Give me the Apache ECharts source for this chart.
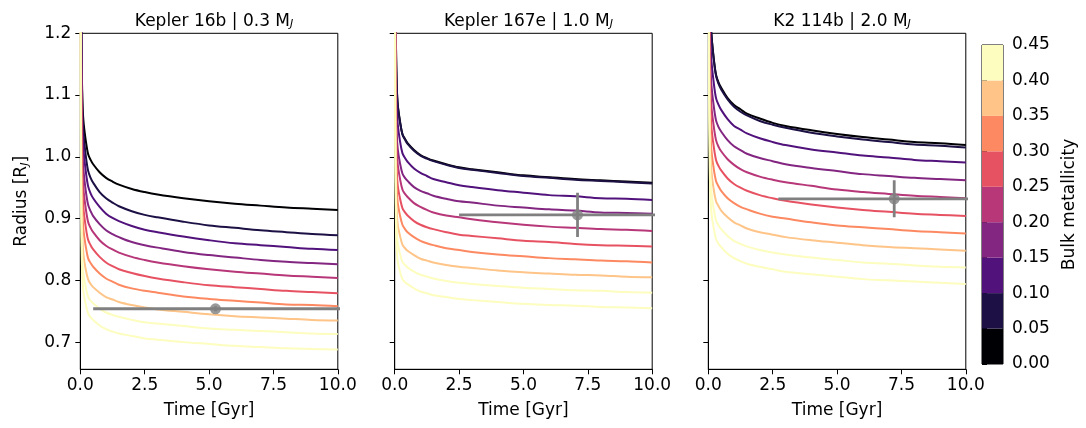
<!DOCTYPE html>
<html>
<head>
<meta charset="utf-8">
<script src="https://cdn.jsdelivr.net/npm/echarts@6/dist/echarts.min.js"></script>
<style>
html,body{margin:0;padding:0;background:#fff;}
#chart{width:1086px;height:428px;}
</style>
</head>
<body>
<div id="chart"></div>
<script>
// ---------- DATA ----------
const times = [0.01,0.02,0.03,0.05,0.08,0.12,0.2,0.3,0.4,0.5,0.75,1,1.25,1.5,2,2.5,3,4,5,6,7,8,9,10];
const metallicity = [0.00,0.05,0.10,0.15,0.20,0.25,0.30,0.35,0.40,0.45];

// Kepler 16b | 0.3 MJ
const k16b_z00 = [1.864,1.454,1.304,1.170,1.094,1.059,1.030,1.005,0.995,0.988,0.975,0.966,0.960,0.955,0.948,0.943,0.939,0.933,0.928,0.924,0.921,0.918,0.916,0.914];
const k16b_z05 = [1.966,1.494,1.322,1.167,1.080,1.040,1.006,0.978,0.966,0.958,0.943,0.933,0.926,0.920,0.912,0.906,0.902,0.895,0.889,0.885,0.881,0.878,0.875,0.873];
const k16b_z10 = [1.932,1.465,1.294,1.141,1.054,1.014,0.981,0.953,0.941,0.933,0.919,0.908,0.901,0.896,0.888,0.882,0.878,0.871,0.865,0.860,0.857,0.854,0.851,0.849];
const k16b_z15 = [1.833,1.398,1.239,1.097,1.017,0.980,0.949,0.923,0.912,0.904,0.891,0.881,0.875,0.870,0.862,0.857,0.853,0.846,0.841,0.837,0.833,0.830,0.828,0.826];
const k16b_z20 = [1.754,1.344,1.194,1.060,0.984,0.949,0.920,0.895,0.885,0.878,0.865,0.856,0.850,0.845,0.838,0.833,0.829,0.823,0.818,0.814,0.811,0.808,0.806,0.804];
const k16b_z25 = [1.691,1.297,1.153,1.025,0.952,0.918,0.890,0.866,0.857,0.850,0.838,0.829,0.823,0.818,0.812,0.807,0.803,0.797,0.792,0.789,0.786,0.783,0.781,0.779];
const k16b_z30 = [1.575,1.222,1.093,0.978,0.913,0.883,0.858,0.836,0.828,0.822,0.811,0.803,0.798,0.793,0.787,0.783,0.780,0.774,0.770,0.767,0.764,0.761,0.760,0.758];
const k16b_z35 = [1.438,1.134,1.023,0.924,0.868,0.842,0.820,0.802,0.794,0.789,0.780,0.773,0.769,0.765,0.760,0.756,0.753,0.749,0.745,0.742,0.740,0.738,0.736,0.735];
const k16b_z40 = [1.350,1.075,0.974,0.885,0.834,0.810,0.791,0.774,0.767,0.763,0.754,0.748,0.744,0.741,0.736,0.732,0.730,0.726,0.722,0.720,0.718,0.716,0.714,0.713];
const k16b_z45 = [1.305,1.039,0.941,0.854,0.805,0.782,0.763,0.747,0.740,0.736,0.727,0.721,0.717,0.714,0.710,0.706,0.704,0.700,0.697,0.694,0.692,0.690,0.689,0.688];

// Kepler 167e | 1.0 MJ
const k167e_z00 = [1.785,1.428,1.297,1.181,1.115,1.084,1.059,1.037,1.029,1.022,1.011,1.003,0.998,0.994,0.988,0.983,0.980,0.975,0.970,0.967,0.964,0.962,0.960,0.958];
const k167e_z05 = [1.784,1.427,1.296,1.180,1.114,1.083,1.058,1.036,1.028,1.021,1.010,1.002,0.997,0.993,0.987,0.982,0.979,0.974,0.969,0.966,0.963,0.961,0.959,0.957];
const k167e_z10 = [1.728,1.384,1.258,1.145,1.081,1.052,1.027,1.006,0.998,0.992,0.981,0.974,0.969,0.964,0.959,0.954,0.951,0.946,0.942,0.938,0.936,0.933,0.932,0.930];
const k167e_z15 = [1.592,1.296,1.188,1.092,1.037,1.012,0.991,0.973,0.966,0.961,0.951,0.945,0.941,0.937,0.932,0.928,0.926,0.921,0.918,0.915,0.913,0.910,0.909,0.908];
const k167e_z20 = [1.583,1.280,1.169,1.069,1.013,0.987,0.966,0.947,0.940,0.935,0.925,0.919,0.914,0.910,0.905,0.902,0.899,0.894,0.890,0.887,0.885,0.883,0.882,0.880];
const k167e_z25 = [1.501,1.222,1.120,1.029,0.977,0.953,0.934,0.917,0.910,0.905,0.896,0.890,0.886,0.883,0.878,0.874,0.872,0.868,0.864,0.862,0.859,0.857,0.856,0.855];
const k167e_z30 = [1.456,1.186,1.087,0.998,0.948,0.925,0.906,0.890,0.883,0.878,0.870,0.864,0.860,0.857,0.852,0.849,0.846,0.842,0.839,0.836,0.834,0.832,0.831,0.829];
const k167e_z35 = [1.356,1.118,1.031,0.954,0.910,0.889,0.873,0.858,0.852,0.848,0.841,0.835,0.832,0.829,0.825,0.822,0.820,0.816,0.813,0.811,0.809,0.808,0.806,0.805];
const k167e_z40 = [1.303,1.077,0.995,0.921,0.879,0.860,0.844,0.830,0.825,0.821,0.814,0.809,0.806,0.803,0.799,0.796,0.794,0.791,0.788,0.786,0.784,0.783,0.781,0.780];
const k167e_z45 = [1.249,1.036,0.958,0.888,0.849,0.830,0.815,0.802,0.797,0.794,0.787,0.782,0.779,0.776,0.773,0.770,0.768,0.765,0.762,0.760,0.759,0.757,0.756,0.755];

// K2 114b | 2.0 MJ
const k2114b_z00 = [2.207,1.694,1.507,1.339,1.244,1.200,1.164,1.133,1.120,1.112,1.095,1.084,1.077,1.070,1.062,1.055,1.050,1.043,1.037,1.032,1.028,1.024,1.022,1.019];
const k2114b_z05 = [2.222,1.701,1.510,1.340,1.244,1.199,1.162,1.131,1.118,1.109,1.093,1.081,1.073,1.067,1.058,1.052,1.047,1.039,1.033,1.028,1.024,1.020,1.018,1.015];
const k2114b_z10 = [2.083,1.612,1.439,1.285,1.198,1.157,1.124,1.095,1.084,1.076,1.061,1.050,1.044,1.038,1.030,1.024,1.019,1.012,1.007,1.002,0.999,0.995,0.993,0.991];
const k2114b_z15 = [1.978,1.539,1.379,1.235,1.154,1.117,1.086,1.059,1.048,1.041,1.027,1.017,1.011,1.005,0.998,0.993,0.988,0.982,0.977,0.972,0.969,0.966,0.964,0.962];
const k2114b_z20 = [1.912,1.489,1.335,1.197,1.118,1.082,1.053,1.027,1.016,1.009,0.996,0.987,0.980,0.975,0.968,0.963,0.959,0.953,0.947,0.943,0.940,0.937,0.935,0.933];
const k2114b_z25 = [1.854,1.444,1.294,1.160,1.084,1.049,1.020,0.995,0.985,0.978,0.965,0.956,0.950,0.945,0.938,0.933,0.929,0.923,0.918,0.914,0.911,0.908,0.906,0.904];
const k2114b_z30 = [1.760,1.379,1.239,1.115,1.044,1.011,0.984,0.961,0.952,0.945,0.933,0.925,0.919,0.915,0.908,0.903,0.900,0.894,0.889,0.886,0.883,0.880,0.878,0.876];
const k2114b_z35 = [1.684,1.323,1.191,1.074,1.007,0.976,0.950,0.928,0.920,0.913,0.902,0.894,0.889,0.884,0.878,0.874,0.870,0.865,0.861,0.857,0.854,0.852,0.850,0.848];
const k2114b_z40 = [1.619,1.274,1.148,1.036,0.972,0.943,0.918,0.897,0.889,0.883,0.872,0.864,0.859,0.855,0.849,0.845,0.842,0.837,0.833,0.829,0.827,0.824,0.822,0.821];
const k2114b_z45 = [1.554,1.226,1.106,0.999,0.938,0.910,0.887,0.867,0.859,0.854,0.843,0.836,0.831,0.827,0.822,0.818,0.814,0.810,0.806,0.802,0.800,0.798,0.796,0.794];

// observed planets
const planetNames = ['Kepler 16b', 'Kepler 167e', 'K2 114b'];
const planetMasses = ['0.3', '1.0', '2.0'];
const obsAge = [5.25, 7.1, 7.22];
const obsAgeErrLo = [4.75, 4.6, 4.5];
const obsAgeErrHi = [6.0, 4.6, 4.5];
const obsRadius = [0.754, 0.906, 0.932];
const obsRadiusErr = [0.004, 0.036, 0.030];

// axes ticks
const xTicks = [0, 2.5, 5, 7.5, 10];
const yTicks = [0.7, 0.8, 0.9, 1.0, 1.1, 1.2];
const cbEdges = [0.00,0.05,0.10,0.15,0.20,0.25,0.30,0.35,0.40,0.45];
const cbColors = ['#000004','#1c1044','#51127c','#832681','#b73779','#e75263','#fc8961','#fec488','#fcfdbf'];

// ---------- BUILD ----------
const panels = [
  [k16b_z00,k16b_z05,k16b_z10,k16b_z15,k16b_z20,k16b_z25,k16b_z30,k16b_z35,k16b_z40,k16b_z45],
  [k167e_z00,k167e_z05,k167e_z10,k167e_z15,k167e_z20,k167e_z25,k167e_z30,k167e_z35,k167e_z40,k167e_z45],
  [k2114b_z00,k2114b_z05,k2114b_z10,k2114b_z15,k2114b_z20,k2114b_z25,k2114b_z30,k2114b_z35,k2114b_z40,k2114b_z45]
];
const FONT = 'DejaVu Sans';
const FS = 17;
const gridLefts = [80.3, 394.7, 708.3];
const gridW = 257.5, gridTop = 33.3, gridH = 336;

function zColor(z) {
  let i = Math.floor(z / 0.05 + 1e-6);
  if (i > cbColors.length - 1) i = cbColors.length - 1;
  return cbColors[i];
}

const grids = [], xAxes = [], yAxes = [], series = [], titles = [];
for (let p = 0; p < 3; p++) {
  grids.push({left: gridLefts[p], top: gridTop, width: gridW, height: gridH,
    show: true, borderColor: '#000', borderWidth: 1, backgroundColor: 'transparent'});
  xAxes.push({type: 'value', gridIndex: p, min: 0, max: 10, interval: 2.5,
    axisLine: {show: true, lineStyle: {color: '#000', width: 1}},
    axisTick: {show: true, length: 5, lineStyle: {color: '#000'}},
    axisLabel: {show: true, margin: 8, color: '#000', fontFamily: FONT, fontSize: FS,
      formatter: v => v.toFixed(1), showMaxLabel: true, showMinLabel: true},
    splitLine: {show: false},
    name: 'Time [Gyr]', nameLocation: 'middle', nameGap: 33,
    nameTextStyle: {color: '#000', fontFamily: FONT, fontSize: FS}});
  const y = {type: 'value', gridIndex: p, min: 0.656, max: 1.2,
    axisLine: {show: true, lineStyle: {color: '#000', width: 1}},
    axisTick: {show: true, length: 5, lineStyle: {color: '#000'}, customValues: yTicks},
    axisLabel: {show: p === 0, margin: 9, color: '#000', fontFamily: FONT, fontSize: FS,
      customValues: yTicks, formatter: v => Number(v).toFixed(1)},
    splitLine: {show: false}};
  if (p === 0) {
    y.name = '{a|Radius [R}{s|J}{a|]}';
    y.nameLocation = 'middle';
    y.nameGap = 50;
    y.nameTextStyle = {color: '#000', fontFamily: FONT, fontSize: FS,
      rich: {a: {fontFamily: FONT, fontSize: FS, color: '#000', verticalAlign: 'bottom', lineHeight: 22},
             s: {fontFamily: FONT, fontSize: 11, fontStyle: 'italic', color: '#000', verticalAlign: 'bottom', lineHeight: 14}}};
  }
  yAxes.push(y);
  titles.push({text: '{a|' + planetNames[p] + ' | ' + planetMasses[p] + ' M}{s|J}',
    left: gridLefts[p] + gridW / 2, textAlign: 'center', top: 3,
    textStyle: {fontFamily: FONT, fontSize: FS, fontWeight: 'normal', color: '#000',
      rich: {a: {fontFamily: FONT, fontSize: FS, color: '#000', verticalAlign: 'bottom', lineHeight: 22},
             s: {fontFamily: FONT, fontSize: 11, fontStyle: 'italic', color: '#000', verticalAlign: 'bottom', lineHeight: 14}}}});

  for (let i = 0; i < metallicity.length; i++) {
    const vals = panels[p][i];
    series.push({type: 'line', xAxisIndex: p, yAxisIndex: p, clip: true,
      data: times.map((t, k) => [t, vals[k]]),
      showSymbol: false, symbol: 'none', smooth: 0.35,
      lineStyle: {color: zColor(metallicity[i]), width: 2, join: 'round'}, z: 2 + i * 0.01,
      silent: true, animation: false});
  }
  // error bars
  const gray = '#808080';
  series.push({type: 'line', xAxisIndex: p, yAxisIndex: p, clip: true, symbol: 'none',
    data: [[obsAge[p] - obsAgeErrLo[p], obsRadius[p]], [obsAge[p] + obsAgeErrHi[p], obsRadius[p]]],
    lineStyle: {color: gray, width: 2.8}, z: 5, animation: false, silent: true});
  series.push({type: 'line', xAxisIndex: p, yAxisIndex: p, clip: true, symbol: 'none',
    data: [[obsAge[p], obsRadius[p] - obsRadiusErr[p]], [obsAge[p], obsRadius[p] + obsRadiusErr[p]]],
    lineStyle: {color: gray, width: 2.8}, z: 5, animation: false, silent: true});
  series.push({type: 'scatter', xAxisIndex: p, yAxisIndex: p, symbol: 'circle', symbolSize: 11,
    data: [[obsAge[p], obsRadius[p]]], itemStyle: {color: gray}, z: 6, animation: false, silent: true});
}

// colorbar
grids.push({left: 982, top: 45, width: 21, height: 319, show: true, borderColor: '#000', borderWidth: 1});
xAxes.push({type: 'value', gridIndex: 3, min: 0, max: 1, show: false});
yAxes.push({type: 'value', gridIndex: 3, min: 0, max: 0.45, interval: 0.05, position: 'right',
  axisLine: {show: false},
  axisTick: {show: true, length: 5, lineStyle: {color: '#000'}},
  axisLabel: {show: true, margin: 9, color: '#000', fontFamily: FONT, fontSize: FS,
    formatter: v => Number(v).toFixed(2), showMaxLabel: true},
  splitLine: {show: false},
  name: 'Bulk metallicity', nameLocation: 'middle', nameGap: 58, nameRotate: 90,
  nameTextStyle: {color: '#000', fontFamily: FONT, fontSize: FS}});
series.push({type: 'custom', xAxisIndex: 3, yAxisIndex: 3, animation: false, silent: true,
  data: cbColors.map((c, i) => [cbEdges[i], cbEdges[i + 1]]),
  encode: {y: [0, 1]},
  renderItem: (params, api) => {
    const lo = api.value(0), hi = api.value(1);
    const a = api.coord([0, hi]);
    const b = api.coord([1, lo]);
    return {type: 'rect', shape: {x: a[0], y: a[1], width: b[0] - a[0], height: b[1] - a[1]},
      style: {fill: cbColors[params.dataIndex]}};
  }, z: 1});

const chart = echarts.init(document.getElementById('chart'), null, {renderer: 'canvas'});
chart.setOption({
  backgroundColor: '#fff',
  animation: false,
  title: titles,
  grid: grids,
  xAxis: xAxes,
  yAxis: yAxes,
  series: series
});
</script>
</body>
</html>
